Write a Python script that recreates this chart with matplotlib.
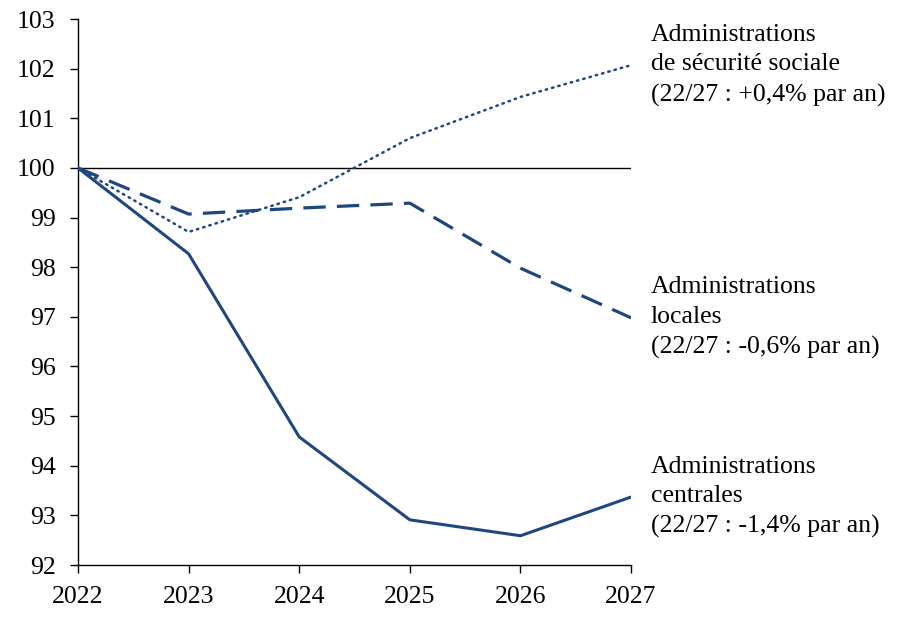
import matplotlib
matplotlib.use("Agg")
import matplotlib.pyplot as plt

#### data ####
years = [2022, 2023, 2024, 2025, 2026, 2027]
centrales = [100, 98.27, 94.58, 92.91, 92.59, 93.37]
locales = [100, 99.07, 99.19, 99.29, 97.98, 96.98]
secu = [100, 98.71, 99.41, 100.60, 101.43, 102.07]

lab_secu = "Administrations\nde sécurité sociale\n(22/27 : +0,4% par an)"
lab_loc = "Administrations\nlocales\n(22/27 : -0,6% par an)"
lab_cen = "Administrations\ncentrales\n(22/27 : -1,4% par an)"

blue = "#1f477d"
plt.rcParams['font.family'] = ['Liberation Serif', 'DejaVu Serif']
fs = 18.5

fig = plt.figure(figsize=(9.12, 6.19), dpi=100)
ax = fig.add_axes([0.0855, 0.0872, 0.6065, 0.8821])

ax.axhline(100, color="black", lw=1.0, zorder=1)

ax.plot(years, centrales, color=blue, lw=2.2, solid_joinstyle="round", zorder=3)
ax.plot(years, locales, color=blue, lw=2.3, dashes=(7, 3.5), zorder=3)
ax.plot(years, secu, color=blue, lw=1.8, linestyle=(0, (0.6, 2.0)),
        dash_capstyle="round", zorder=3)

# labels at the end of each series
for vals, txt in [(secu, lab_secu), (locales, lab_loc), (centrales, lab_cen)]:
    ax.annotate(txt, xy=(years[-1], vals[-1]), xytext=(14, 0),
                textcoords="offset points", va="center", ha="left",
                fontsize=fs, linespacing=1.45, annotation_clip=False)

ax.set_xlim(2022, 2027)
ax.set_ylim(92, 103)
ax.set_xticks(years)
ax.set_yticks(range(92, 104))
ax.tick_params(labelsize=fs, direction="out", length=6, width=1, colors="black")
ax.tick_params(axis="x", pad=9)
ax.tick_params(axis="y", pad=10)
ax.spines["top"].set_visible(False)
ax.spines["right"].set_visible(False)
for s in ["left", "bottom"]:
    ax.spines[s].set_linewidth(1.0)

fig.savefig("out.png", dpi=100)
